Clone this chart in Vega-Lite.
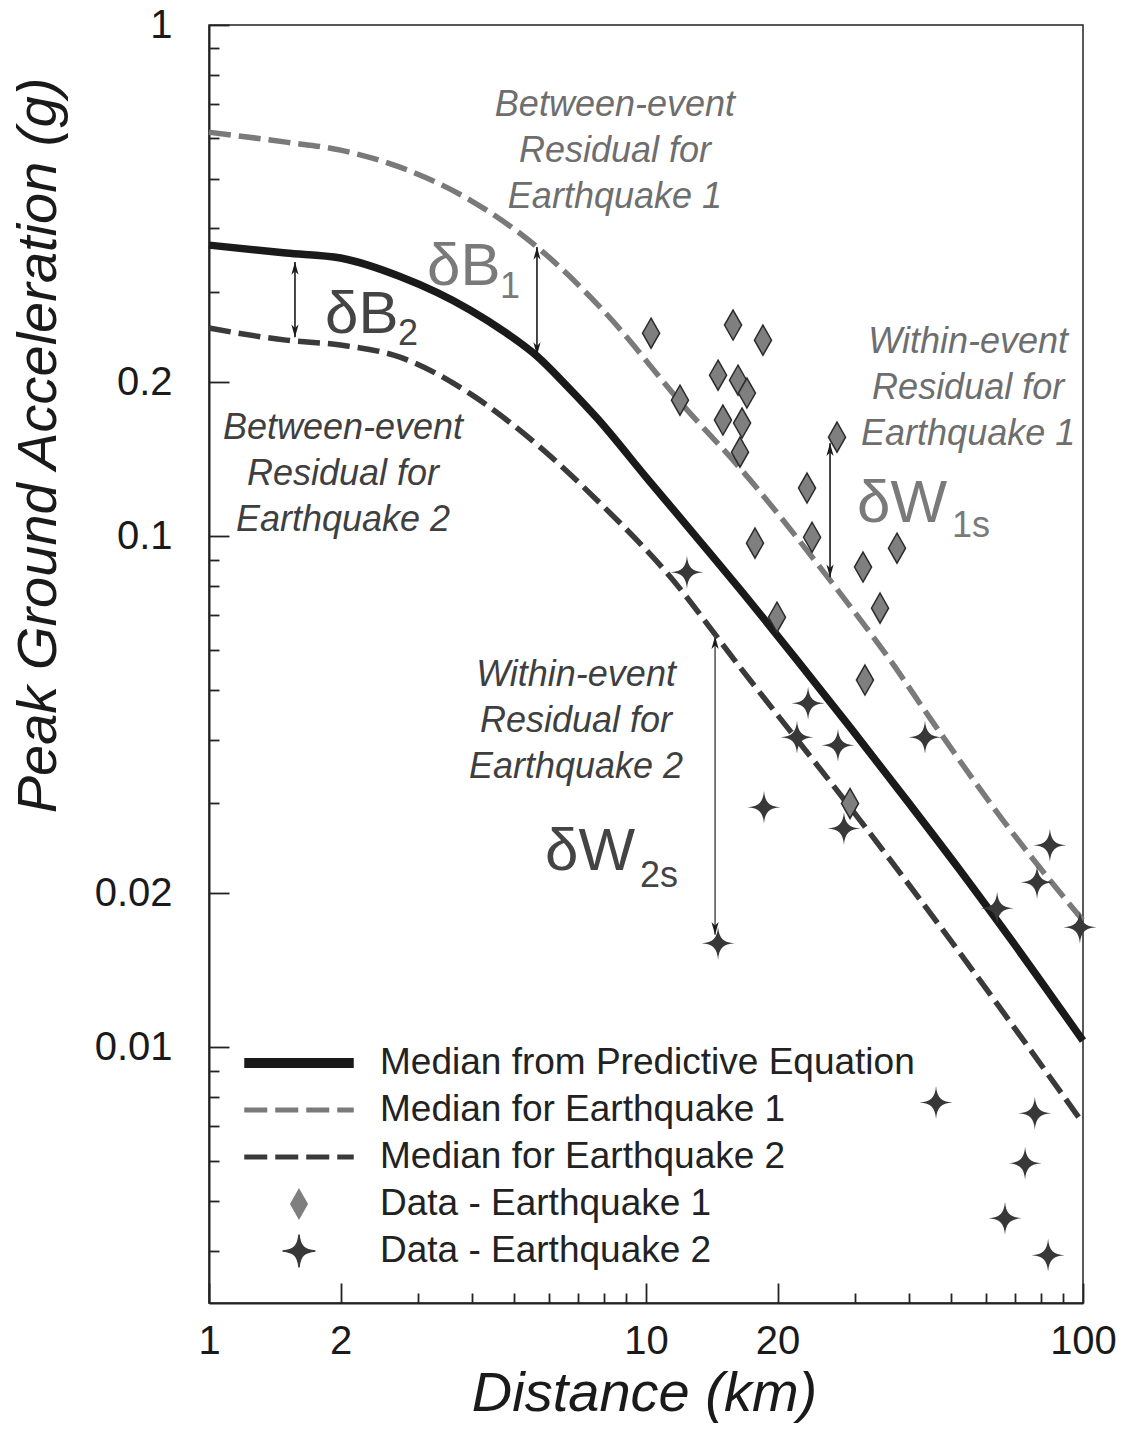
{
  "$schema": "https://vega.github.io/schema/vega-lite/v6.json",
  "width": 874,
  "height": 1278,
  "autosize": {"type": "none"},
  "padding": {"left": 209, "top": 25, "right": 47, "bottom": 132},
  "background": "white",
  "config": {
    "view": {"stroke": "#222222", "strokeWidth": 1.5},
    "font": "Liberation Sans",
    "axis": {"labelFont": "Liberation Sans", "titleFont": "Liberation Sans"}
  },
  "datasets": {
    "curves": [
      {"series": "Median from Predictive Equation", "x": 1, "y": 0.371},
      {"series": "Median from Predictive Equation", "x": 1.5, "y": 0.358},
      {"series": "Median from Predictive Equation", "x": 2, "y": 0.35},
      {"series": "Median from Predictive Equation", "x": 2.735, "y": 0.322},
      {"series": "Median from Predictive Equation", "x": 3.956, "y": 0.277},
      {"series": "Median from Predictive Equation", "x": 4.757, "y": 0.2507},
      {"series": "Median from Predictive Equation", "x": 5.63, "y": 0.225},
      {"series": "Median from Predictive Equation", "x": 6.596, "y": 0.1966},
      {"series": "Median from Predictive Equation", "x": 7.725, "y": 0.1702},
      {"series": "Median from Predictive Equation", "x": 10, "y": 0.1305},
      {"series": "Median from Predictive Equation", "x": 13.29, "y": 0.0977},
      {"series": "Median from Predictive Equation", "x": 16.41, "y": 0.0787},
      {"series": "Median from Predictive Equation", "x": 22.16, "y": 0.0572},
      {"series": "Median from Predictive Equation", "x": 29.3, "y": 0.0423},
      {"series": "Median from Predictive Equation", "x": 40, "y": 0.03},
      {"series": "Median from Predictive Equation", "x": 52.3, "y": 0.0222},
      {"series": "Median from Predictive Equation", "x": 69.9, "y": 0.01584},
      {"series": "Median from Predictive Equation", "x": 100, "y": 0.0103},
      {"series": "Median for Earthquake 1", "x": 1, "y": 0.617},
      {"series": "Median for Earthquake 1", "x": 1.5, "y": 0.59},
      {"series": "Median for Earthquake 1", "x": 2, "y": 0.569},
      {"series": "Median for Earthquake 1", "x": 2.735, "y": 0.527},
      {"series": "Median for Earthquake 1", "x": 3.956, "y": 0.4545},
      {"series": "Median for Earthquake 1", "x": 5.63, "y": 0.368},
      {"series": "Median for Earthquake 1", "x": 7.85, "y": 0.2806},
      {"series": "Median for Earthquake 1", "x": 12.61, "y": 0.174},
      {"series": "Median for Earthquake 1", "x": 15.82, "y": 0.1408},
      {"series": "Median for Earthquake 1", "x": 26.37, "y": 0.082},
      {"series": "Median for Earthquake 1", "x": 36.2, "y": 0.0572},
      {"series": "Median for Earthquake 1", "x": 44.7, "y": 0.044},
      {"series": "Median for Earthquake 1", "x": 65.6, "y": 0.0278},
      {"series": "Median for Earthquake 1", "x": 100, "y": 0.0177},
      {"series": "Median for Earthquake 2", "x": 1, "y": 0.2553},
      {"series": "Median for Earthquake 2", "x": 1.5, "y": 0.2418},
      {"series": "Median for Earthquake 2", "x": 2, "y": 0.2365},
      {"series": "Median for Earthquake 2", "x": 2.735, "y": 0.224},
      {"series": "Median for Earthquake 2", "x": 3.956, "y": 0.19},
      {"series": "Median for Earthquake 2", "x": 5.72, "y": 0.1493},
      {"series": "Median for Earthquake 2", "x": 7.85, "y": 0.116},
      {"series": "Median for Earthquake 2", "x": 11.17, "y": 0.0847},
      {"series": "Median for Earthquake 2", "x": 16.41, "y": 0.0554},
      {"series": "Median for Earthquake 2", "x": 30.9, "y": 0.0278},
      {"series": "Median for Earthquake 2", "x": 52.3, "y": 0.01528},
      {"series": "Median for Earthquake 2", "x": 100, "y": 0.0071}
    ],
    "eq1": [
      {"series": "Data - Earthquake 1", "x": 10.27, "y": 0.2495},
      {"series": "Data - Earthquake 1", "x": 11.96, "y": 0.1845},
      {"series": "Data - Earthquake 1", "x": 15.82, "y": 0.2588},
      {"series": "Data - Earthquake 1", "x": 18.52, "y": 0.2418},
      {"series": "Data - Earthquake 1", "x": 14.62, "y": 0.2065},
      {"series": "Data - Earthquake 1", "x": 16.24, "y": 0.2019},
      {"series": "Data - Earthquake 1", "x": 17.02, "y": 0.1905},
      {"series": "Data - Earthquake 1", "x": 15.0, "y": 0.1687},
      {"series": "Data - Earthquake 1", "x": 16.59, "y": 0.1664},
      {"series": "Data - Earthquake 1", "x": 16.41, "y": 0.146},
      {"series": "Data - Earthquake 1", "x": 17.76, "y": 0.0969},
      {"series": "Data - Earthquake 1", "x": 19.94, "y": 0.0694},
      {"series": "Data - Earthquake 1", "x": 23.36, "y": 0.1242},
      {"series": "Data - Earthquake 1", "x": 23.99, "y": 0.0995},
      {"series": "Data - Earthquake 1", "x": 27.36, "y": 0.1562},
      {"series": "Data - Earthquake 1", "x": 31.38, "y": 0.087},
      {"series": "Data - Earthquake 1", "x": 37.53, "y": 0.0947},
      {"series": "Data - Earthquake 1", "x": 34.32, "y": 0.0723},
      {"series": "Data - Earthquake 1", "x": 31.7, "y": 0.0523},
      {"series": "Data - Earthquake 1", "x": 29.3, "y": 0.03}
    ],
    "eq2": [
      {"series": "Data - Earthquake 2", "x": 12.41, "y": 0.085},
      {"series": "Data - Earthquake 2", "x": 23.49, "y": 0.0471},
      {"series": "Data - Earthquake 2", "x": 22.16, "y": 0.0404},
      {"series": "Data - Earthquake 2", "x": 27.5, "y": 0.039},
      {"series": "Data - Earthquake 2", "x": 18.62, "y": 0.0295},
      {"series": "Data - Earthquake 2", "x": 28.38, "y": 0.0268},
      {"series": "Data - Earthquake 2", "x": 14.62, "y": 0.01597},
      {"series": "Data - Earthquake 2", "x": 43.5, "y": 0.0404},
      {"series": "Data - Earthquake 2", "x": 84.0, "y": 0.02485},
      {"series": "Data - Earthquake 2", "x": 78.5, "y": 0.02103},
      {"series": "Data - Earthquake 2", "x": 63.6, "y": 0.0187},
      {"series": "Data - Earthquake 2", "x": 98.4, "y": 0.01717},
      {"series": "Data - Earthquake 2", "x": 46.1, "y": 0.0078},
      {"series": "Data - Earthquake 2", "x": 77.6, "y": 0.00743},
      {"series": "Data - Earthquake 2", "x": 73.7, "y": 0.00593},
      {"series": "Data - Earthquake 2", "x": 66.3, "y": 0.00463},
      {"series": "Data - Earthquake 2", "x": 83.2, "y": 0.00392}
    ],
    "arrows": [
      {"id": "B2", "x": 1.573, "top": 0.3438, "bottom": 0.245},
      {"id": "B1", "x": 5.63, "top": 0.368, "bottom": 0.226},
      {"id": "W1", "x": 26.37, "top": 0.152, "bottom": 0.0831},
      {"id": "W2", "x": 14.39, "top": 0.0637, "bottom": 0.0166}
    ],
    "notes": [
      {"eq": 1, "x": 8.49, "y": 0.697, "text": "Between-event\nResidual for\nEarthquake 1"},
      {"eq": 2, "x": 2.026, "y": 0.1627, "text": "Between-event\nResidual for\nEarthquake 2"},
      {"eq": 1, "x": 54.6, "y": 0.2397, "text": "Within-event\nResidual for\nEarthquake 1"},
      {"eq": 2, "x": 6.916, "y": 0.05346, "text": "Within-event\nResidual for\nEarthquake 2"}
    ],
    "deltas": [
      {"eq": 1, "x": 3.155, "y": 0.31, "text": "δB"},
      {"eq": 2, "x": 1.843, "y": 0.2495, "text": "δB"},
      {"eq": 1, "x": 30.4, "y": 0.1066, "text": "δW"},
      {"eq": 2, "x": 5.873, "y": 0.0222, "text": "δW"}
    ],
    "subs": [
      {"eq": 1, "x": 4.634, "y": 0.2922, "text": "1"},
      {"eq": 2, "x": 2.707, "y": 0.2365, "text": "2"},
      {"eq": 1, "x": 50.14, "y": 0.0995, "text": "1s"},
      {"eq": 2, "x": 9.69, "y": 0.02056, "text": "2s"}
    ]
  },
  "layer": [
    {
      "data": {"name": "curves"},
      "transform": [{"filter": "datum.series === 'Median from Predictive Equation'"}],
      "mark": {"type": "line", "strokeWidth": 7.5, "interpolate": "monotone", "strokeCap": "butt"},
      "encoding": {
        "x": {
          "field": "x", "type": "quantitative",
          "scale": {"type": "log", "domain": [1, 100], "nice": false},
          "axis": {
            "title": "Distance (km)",
            "titleFontStyle": "italic", "titleFontSize": 56, "titleFontWeight": "normal", "titleColor": "#1a1a1a",
            "titleX": 435, "titleY": 107, "titleAlign": "center", "titleBaseline": "alphabetic",
            "values": [1, 2, 3, 4, 5, 6, 7, 8, 9, 10, 20, 30, 40, 50, 60, 70, 80, 90, 100],
            "labelExpr": "indexof([1, 2, 10, 20, 100], datum.value) >= 0 ? format(datum.value, '~g') : ''",
            "labelFontSize": 40, "labelColor": "#1a1a1a", "labelFlush": false, "labelOverlap": false, "labelPadding": 38,
            "tickSize": {"condition": {"test": "indexof([1, 2, 10, 20, 100], datum.value) >= 0", "value": -20}, "value": -10},
            "tickColor": "#222222", "tickWidth": 1.8,
            "domain": true, "domainColor": "#222222", "domainWidth": 2, "grid": false
          }
        },
        "y": {
          "field": "y", "type": "quantitative",
          "scale": {"type": "log", "domain": [0.00316, 1], "nice": false},
          "axis": {
            "title": "Peak Ground Acceleration (g)",
            "titleFontStyle": "italic", "titleFontSize": 56, "titleFontWeight": "normal", "titleColor": "#1a1a1a",
            "titleAngle": -90, "titleX": -154, "titleY": 420, "titleAlign": "center", "titleBaseline": "alphabetic",
            "values": [0.004, 0.005, 0.006, 0.007, 0.008, 0.009, 0.01, 0.02, 0.03, 0.04, 0.05, 0.06, 0.07, 0.08, 0.09, 0.1, 0.2, 0.3, 0.4, 0.5, 0.6, 0.7, 0.8, 0.9, 1],
            "labelExpr": "indexof([1, 0.2, 0.1, 0.02, 0.01], datum.value) >= 0 ? format(datum.value, '~g') : ''",
            "labelFontSize": 40, "labelColor": "#1a1a1a", "labelFlush": false, "labelOverlap": false, "labelPadding": 57,
            "tickSize": {"condition": {"test": "indexof([1, 0.2, 0.1, 0.02, 0.01], datum.value) >= 0", "value": -20}, "value": -10},
            "tickColor": "#222222", "tickWidth": 1.8,
            "domain": true, "domainColor": "#222222", "domainWidth": 2, "grid": false
          }
        },
        "color": {
          "field": "series", "type": "nominal",
          "scale": {
            "domain": ["Median from Predictive Equation", "Median for Earthquake 1", "Median for Earthquake 2", "Data - Earthquake 1", "Data - Earthquake 2"],
            "range": ["#1a1a1a", "#7a7a7a", "#3a3a3a", "#7f7f7f", "#383838"]
          },
          "legend": {
            "title": null, "orient": "none", "legendX": 69, "legendY": 1017,
            "symbolSize": 1600, "symbolStrokeWidth": 1.5,
            "labelFont": "Liberation Sans", "labelFontSize": 37, "labelColor": "#222222", "labelLimit": 0, "labelOffset": 60,
            "rowPadding": 8, "padding": 0,
            "encode": {
              "symbols": {
                "update": {
                  "shape": [
                    {"test": "datum.value === 'Median from Predictive Equation'", "value": "M-2.7,-0.21L2.7,-0.21L2.7,0.21L-2.7,0.21Z"},
                    {"test": "datum.value === 'Data - Earthquake 1'", "value": "M0,-0.72L0.41,0L0,0.72L-0.41,0Z"},
                    {"test": "datum.value === 'Data - Earthquake 2'", "value": "M0,-0.82C0.05,-0.25 0.25,-0.05 0.82,0C0.25,0.05 0.05,0.25 0,0.82C-0.05,0.25 -0.25,0.05 -0.82,0C-0.25,-0.05 -0.05,-0.25 0,-0.82Z"},
                    {"value": "M-2.7,-0.09L-1.625,-0.09L-1.625,0.09L-2.7,0.09Z M-1.15,-0.09L-0.075,-0.09L-0.075,0.09L-1.15,0.09Z M0.4,-0.09L1.475,-0.09L1.475,0.09L0.4,0.09Z M1.95,-0.09L2.7,-0.09L2.7,0.09L1.95,0.09Z"}
                  ],
                  "fill": [
                    {"test": "datum.value === 'Median from Predictive Equation'", "value": "#1a1a1a"},
                    {"test": "datum.value === 'Median for Earthquake 1'", "value": "#7a7a7a"},
                    {"test": "datum.value === 'Median for Earthquake 2'", "value": "#3a3a3a"},
                    {"test": "datum.value === 'Data - Earthquake 1'", "value": "#7f7f7f"},
                    {"value": "#383838"}
                  ],
                  "stroke": [
                    {"test": "datum.value === 'Median from Predictive Equation'", "value": "#1a1a1a"},
                    {"test": "datum.value === 'Median for Earthquake 1'", "value": "#7a7a7a"},
                    {"test": "datum.value === 'Median for Earthquake 2'", "value": "#3a3a3a"},
                    {"test": "datum.value === 'Data - Earthquake 1'", "value": "#2b2b2b"},
                    {"value": "#383838"}
                  ],
                  "opacity": {"value": 1}
                }
              }
            }
          }
        }
      }
    },
    {
      "data": {"name": "curves"},
      "transform": [{"filter": "datum.series === 'Median for Earthquake 1'"}],
      "mark": {"type": "line", "strokeWidth": 5.5, "strokeDash": [22, 8], "interpolate": "monotone", "strokeCap": "butt"},
      "encoding": {
        "x": {"field": "x", "type": "quantitative"},
        "y": {"field": "y", "type": "quantitative"},
        "color": {"field": "series", "type": "nominal", "legend": null}
      }
    },
    {
      "data": {"name": "curves"},
      "transform": [{"filter": "datum.series === 'Median for Earthquake 2'"}],
      "mark": {"type": "line", "strokeWidth": 5.5, "strokeDash": [22, 8], "interpolate": "monotone", "strokeCap": "butt"},
      "encoding": {
        "x": {"field": "x", "type": "quantitative"},
        "y": {"field": "y", "type": "quantitative"},
        "color": {"field": "series", "type": "nominal", "legend": null}
      }
    },
    {
      "data": {"name": "eq1"},
      "mark": {"type": "point", "filled": true, "shape": "M0,-1L0.57,0L0,1L-0.57,0Z", "size": 900, "stroke": "#2b2b2b", "strokeWidth": 1.5, "opacity": 1},
      "encoding": {
        "x": {"field": "x", "type": "quantitative"},
        "y": {"field": "y", "type": "quantitative"},
        "color": {"field": "series", "type": "nominal", "legend": null}
      }
    },
    {
      "data": {"name": "eq2"},
      "mark": {"type": "point", "filled": true, "shape": "M0,-1C0.06,-0.3 0.3,-0.06 1,0C0.3,0.06 0.06,0.3 0,1C-0.06,0.3 -0.3,0.06 -1,0C-0.3,-0.06 -0.06,-0.3 0,-1Z", "size": 1089, "opacity": 1},
      "encoding": {
        "x": {"field": "x", "type": "quantitative"},
        "y": {"field": "y", "type": "quantitative"},
        "color": {"field": "series", "type": "nominal", "legend": null}
      }
    },
    {
      "data": {"name": "arrows"},
      "mark": {"type": "rule", "strokeWidth": 1.6},
      "encoding": {
        "x": {"field": "x", "type": "quantitative"},
        "y": {"field": "top", "type": "quantitative"},
        "y2": {"field": "bottom"},
        "stroke": {"condition": {"test": "datum.id === 'W2'", "value": "#5a5a5a"}, "value": "#1a1a1a"}
      }
    },
    {
      "data": {"name": "arrows"},
      "mark": {"type": "point", "filled": true, "shape": "M0,0L0.45,1.6L0,1.15L-0.45,1.6Z", "size": 256, "color": "#1a1a1a", "opacity": 1},
      "encoding": {
        "x": {"field": "x", "type": "quantitative"},
        "y": {"field": "top", "type": "quantitative"}
      }
    },
    {
      "data": {"name": "arrows"},
      "mark": {"type": "point", "filled": true, "shape": "M0,0L0.45,-1.6L0,-1.15L-0.45,-1.6Z", "size": 256, "color": "#1a1a1a", "opacity": 1},
      "encoding": {
        "x": {"field": "x", "type": "quantitative"},
        "y": {"field": "bottom", "type": "quantitative"}
      }
    },
    {
      "data": {"name": "notes"},
      "mark": {"type": "text", "font": "Liberation Sans", "fontStyle": "italic", "fontSize": 36, "lineHeight": 46, "lineBreak": "\n", "align": "center", "baseline": "middle"},
      "encoding": {
        "x": {"field": "x", "type": "quantitative"},
        "y": {"field": "y", "type": "quantitative"},
        "text": {"field": "text"},
        "color": {"condition": {"test": "datum.eq === 1", "value": "#6e6e6e"}, "value": "#3f3f3f"}
      }
    },
    {
      "data": {"name": "deltas"},
      "mark": {"type": "text", "font": "Liberation Sans", "fontSize": 60, "align": "left", "baseline": "alphabetic"},
      "encoding": {
        "x": {"field": "x", "type": "quantitative"},
        "y": {"field": "y", "type": "quantitative"},
        "text": {"field": "text"},
        "color": {"condition": {"test": "datum.eq === 1", "value": "#7a7a7a"}, "value": "#444444"}
      }
    },
    {
      "data": {"name": "subs"},
      "mark": {"type": "text", "font": "Liberation Sans", "fontSize": 36, "align": "left", "baseline": "alphabetic"},
      "encoding": {
        "x": {"field": "x", "type": "quantitative"},
        "y": {"field": "y", "type": "quantitative"},
        "text": {"field": "text"},
        "color": {"condition": {"test": "datum.eq === 1", "value": "#7a7a7a"}, "value": "#444444"}
      }
    }
  ]
}
